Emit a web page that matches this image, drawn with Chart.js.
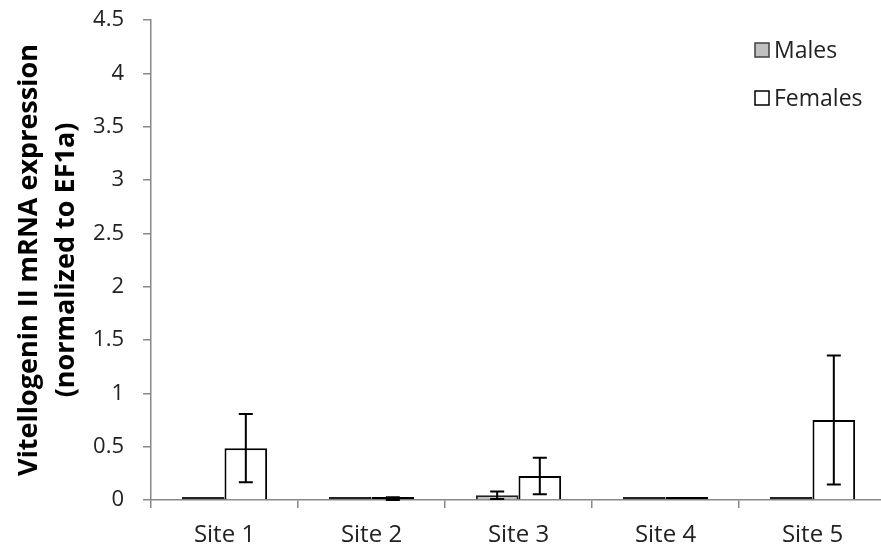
<!DOCTYPE html>
<html>
<head>
<meta charset="utf-8">
<script src="https://cdn.jsdelivr.net/npm/chart.js@4"></script>
<style>
  html, body { margin: 0; padding: 0; background: #fff; overflow: hidden; }
  #wrap { width: 886px; height: 549px; }
</style>
</head>
<body>
<div id="wrap"><canvas id="vtg-chart" width="886" height="549"></canvas></div>
<script>
const sites = ["Site 1", "Site 2", "Site 3", "Site 4", "Site 5"];
const males = [0.01, 0.01, 0.044, 0.01, 0.01];
const malesErr = [0, 0, 0.035, 0, 0];
const females = [0.486, 0.01, 0.225, 0.01, 0.75];
const femalesErr = [0.32, 0.015, 0.17, 0, 0.605];
const yTicks = [0, 0.5, 1, 1.5, 2, 2.5, 3, 3.5, 4, 4.5];

const FONT = "'Open Sans', 'Liberation Sans', sans-serif";

// error bars drawn from the err arrays
const errorBars = {
  id: "errorBars",
  afterDatasetsDraw(chart) {
    const ctx = chart.ctx;
    const y = chart.scales.y;
    const errs = [malesErr, femalesErr];
    ctx.save();
    ctx.strokeStyle = "#000";
    ctx.lineWidth = 2;
    chart.data.datasets.forEach((ds, i) => {
      chart.getDatasetMeta(i).data.forEach((bar, j) => {
        const e = errs[i][j];
        if (!e) return;
        const v = ds.data[j];
        const top = y.getPixelForValue(v + e);
        const bot = y.getPixelForValue(Math.max(v - e, 0));
        ctx.beginPath();
        ctx.moveTo(bar.x, top);
        ctx.lineTo(bar.x, bot);
        ctx.moveTo(bar.x - 7, top);
        ctx.lineTo(bar.x + 7, top);
        ctx.moveTo(bar.x - 7, bot);
        ctx.lineTo(bar.x + 7, bot);
        ctx.stroke();
      });
    });
    ctx.restore();
  }
};

// legend inside the plot, top right
const innerLegend = {
  id: "innerLegend",
  afterDraw(chart) {
    const ctx = chart.ctx;
    ctx.save();
    ctx.font = "23px " + FONT;
    ctx.textBaseline = "middle";
    chart.data.datasets.forEach((ds, i) => {
      const cy = 50 + i * 48;
      ctx.fillStyle = ds.backgroundColor;
      ctx.fillRect(755, cy - 7, 14, 14);
      ctx.strokeStyle = i === 0 ? "#404040" : "#000";
      ctx.lineWidth = 1.5;
      ctx.strokeRect(755, cy - 7, 14, 14);
      ctx.fillStyle = "#222";
      ctx.fillText(ds.label, 774, cy + 1);
    });
    ctx.restore();
  }
};

// near-zero bars show as a solid dark line on the axis
const skipFor = c => (Math.abs(c.raw) < 0.02 ? false : "start");

new Chart("vtg-chart", {
  type: "bar",
  data: {
    labels: sites,
    datasets: [{
      label: "Males",
      data: males,
      backgroundColor: "#c0c0c0",
      borderColor: "#222",
      borderWidth: 2,
      borderSkipped: skipFor
    }, {
      label: "Females",
      data: females,
      backgroundColor: "#ffffff",
      borderColor: "#000",
      borderWidth: 2,
      borderSkipped: skipFor
    }]
  },
  options: {
    responsive: false,
    animation: false,
    layout: { padding: { top: 20, right: 0, bottom: 0, left: 0 } },
    datasets: { bar: { categoryPercentage: 0.58, barPercentage: 1, minBarLength: 3 } },
    plugins: {
      legend: { display: false },
      tooltip: { enabled: false }
    },
    scales: {
      x: {
        grid: { drawOnChartArea: false, color: "#888", tickLength: 8, lineWidth: 1.5 },
        border: { color: "#888", width: 1.5 },
        ticks: { color: "#222", font: { family: FONT, size: 24 }, padding: 13 },
        afterFit(scale) { scale.height = 49; }
      },
      y: {
        min: 0,
        max: 4.5,
        afterBuildTicks(scale) { scale.ticks = yTicks.map(v => ({ value: v })); },
        grid: { drawOnChartArea: false, color: "#888", tickLength: 8, lineWidth: 1.5 },
        border: { color: "#888", width: 1.5 },
        ticks: { color: "#222", font: { family: FONT, size: 22 }, padding: 19, callback: v => String(v) },
        title: {
          display: true,
          text: ["Vitellogenin II mRNA expression", "(normalized to EF1a)"],
          color: "#000",
          font: { family: FONT, size: 27, weight: "bold", lineHeight: 1.37 },
          padding: { top: 11, bottom: 0 }
        },
        afterFit(scale) {
          scale.width = 151;
          scale.paddingTop = 0;
          scale.paddingBottom = 0;
        }
      }
    }
  },
  plugins: [errorBars, innerLegend]
});
</script>
</body>
</html>
